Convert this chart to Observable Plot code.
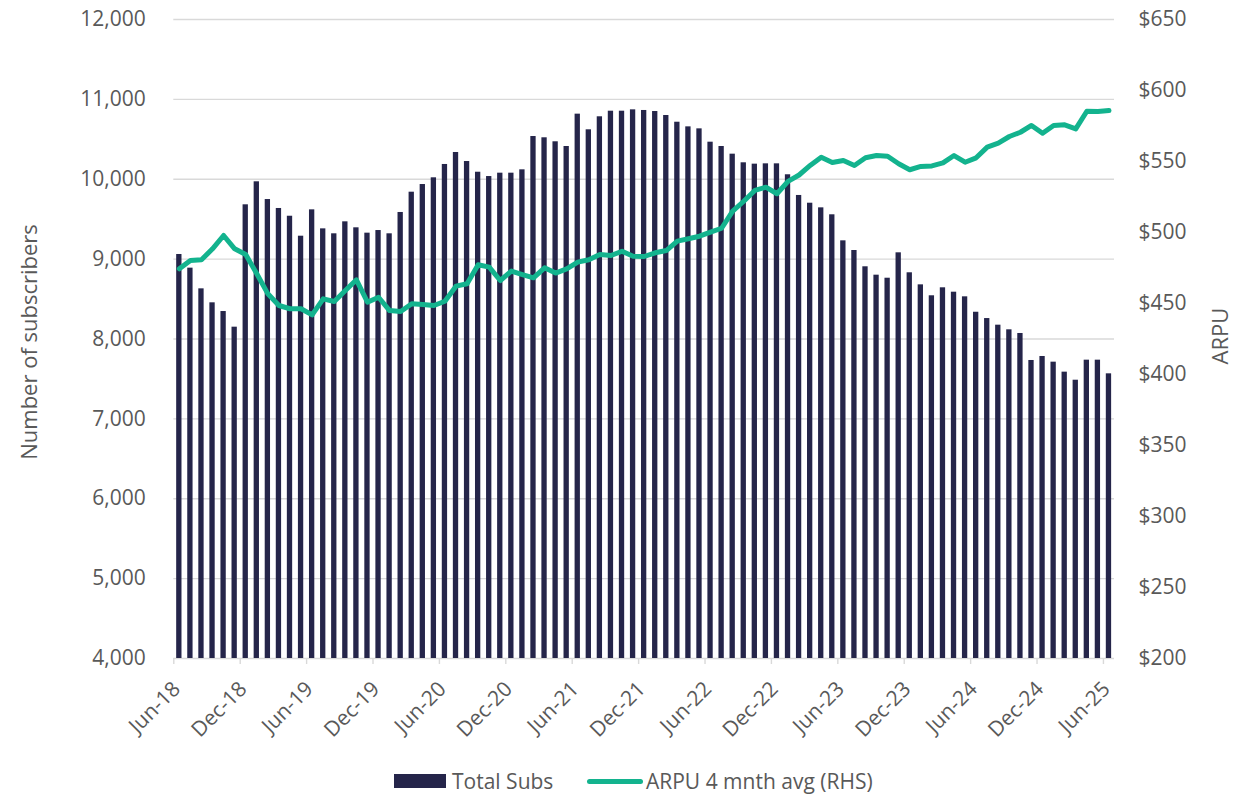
<!DOCTYPE html>
<html>
<head>
<meta charset="utf-8">
<script src="https://cdn.jsdelivr.net/npm/d3@7"></script>
<script src="https://cdn.jsdelivr.net/npm/@observablehq/plot@0.6"></script>
<style>
  html, body { margin: 0; padding: 0; background: #fff; }
  #wrap { width: 1234px; }
  #legend { position: relative; width: 1234px; height: 34px; font-family: "Open Sans", sans-serif; font-size: 21px; color: #595959; }
  #legend .sw { position: absolute; }
  #legend .lbl { position: absolute; top: 6px; height: 30px; line-height: 30px; white-space: nowrap; }
</style>
</head>
<body>
<div id="wrap"></div>
<script>
// ---- data ----
const tickLabels = ["Jun-18","Dec-18","Jun-19","Dec-19","Jun-20","Dec-20","Jun-21","Dec-21","Jun-22","Dec-22","Jun-23","Dec-23","Jun-24","Dec-24","Jun-25"];

const totalSubs = [
  9058, 8887, 8628, 8453, 8344, 8148, 9680, 9968, 9746, 9634, 9537, 9287,
  9617, 9379, 9317, 9467, 9392, 9325, 9358, 9317, 9584, 9838, 9934, 10018,
  10185, 10335, 10222, 10088, 10034, 10076, 10076, 10118, 10535, 10519, 10469, 10410,
  10815, 10619, 10782, 10852, 10852, 10869, 10861, 10848, 10798, 10714, 10656, 10631,
  10464, 10410, 10314, 10206, 10189, 10193, 10193, 10056, 9797, 9700, 9642, 9555,
  9229, 9108, 8904, 8799, 8761, 9079, 8829, 8678, 8541, 8641, 8586, 8528,
  8335, 8256, 8173, 8115, 8069, 7731, 7781, 7710, 7585, 7484, 7735, 7735,
  7564
];

const arpu = [
  474.4, 480.3, 480.8, 488.5, 497.9, 488.5, 484.5, 470.9, 456.8, 448.6, 446.3, 446.3,
  442.0, 453.3, 451.4, 459.2, 466.7, 450.9, 454.4, 445.0, 444.4, 449.8, 449.3, 448.6,
  451.6, 462.2, 463.9, 477.3, 475.6, 466.2, 472.8, 470.4, 468.1, 475.1, 471.4, 474.4,
  479.1, 480.8, 484.5, 483.8, 486.8, 483.3, 483.1, 485.7, 487.3, 493.9, 495.6, 497.4,
  500.2, 503.0, 515.0, 522.0, 529.6, 531.9, 527.3, 536.0, 540.5, 547.2, 553.0, 549.3,
  550.7, 547.2, 552.6, 554.2, 553.7, 548.4, 544.2, 546.5, 546.9, 549.0, 554.2, 549.5,
  552.6, 560.1, 562.9, 567.6, 570.6, 575.4, 569.9, 575.4, 575.8, 573.0, 585.4, 585.2,
  585.9
];

const leftTicks = [4000, 5000, 6000, 7000, 8000, 9000, 10000, 11000, 12000];
const rightTicks = [200, 250, 300, 350, 400, 450, 500, 550, 600, 650];
const leftDomain = [4000, 12000];
const rightDomain = [200, 650];

// ---- helpers ----
const toLeft = v => leftDomain[0] + (v - rightDomain[0]) * (leftDomain[1] - leftDomain[0]) / (rightDomain[1] - rightDomain[0]);
const fromLeft = v => rightDomain[0] + (v - leftDomain[0]) * (rightDomain[1] - rightDomain[0]) / (leftDomain[1] - leftDomain[0]);

const data = totalSubs.map((s, i) => ({i, subs: s, arpu: arpu[i]}));
const tickIdx = tickLabels.map((_, k) => k * 6);

const W = 1234, H = 760;
const barColor = "#25254a", lineColor = "#13b38e", gridColor = "#d9d9d9", textColor = "#595959";

const chart = Plot.plot({
  width: W,
  height: H,
  marginTop: 19,
  marginBottom: H - 658,
  marginLeft: 173.3,
  marginRight: 120,
  style: {fontFamily: "Open Sans", fontSize: "21px", color: textColor, background: "#fff"},
  x: {type: "linear", domain: [0, totalSubs.length], axis: null},
  y: {domain: leftDomain, axis: null},
  marks: [
    Plot.ruleY(leftTicks, {stroke: gridColor, strokeWidth: 1.4}),
    Plot.rectY(data, {x1: d => d.i + 0.26, x2: d => d.i + 0.74, y1: leftDomain[0], y2: "subs", fill: barColor}),
    Plot.line(data, {x: d => d.i + 0.5, y: d => toLeft(d.arpu), stroke: lineColor, strokeWidth: 5, strokeLinejoin: "round", strokeLinecap: "round"}),
    Plot.axisY({ticks: leftTicks, tickFormat: d3.format(","), tickSize: 0, tickPadding: 28, label: null, fill: textColor}),
    Plot.axisY({anchor: "right", ticks: rightTicks.map(toLeft), tickFormat: v => "$" + Math.round(fromLeft(v)), tickSize: 0, tickPadding: 24, label: null, fill: textColor}),
    Plot.axisX({ticks: tickIdx, tickFormat: () => "", tickSize: 6, tickPadding: 0, stroke: gridColor, strokeWidth: 1.4, label: null}),
    Plot.axisX({ticks: tickIdx, tickFormat: d => tickLabels[tickIdx.indexOf(d)], tickRotate: -45, tickSize: 0, tickPadding: 27, dx: 3, fill: textColor, label: null, stroke: "none"}),
    Plot.text(["Number of subscribers"], {frameAnchor: "left", textAnchor: "middle", dx: -144, dy: 3, rotate: -90, fill: textColor, fontSize: 22}),
    Plot.text(["ARPU"], {frameAnchor: "right", textAnchor: "middle", dx: 106, dy: -3, rotate: -90, fill: textColor, fontSize: 22})
  ]
});
document.getElementById("wrap").appendChild(chart);

// ---- legend ----
const legend = document.createElement("div");
legend.id = "legend";
legend.innerHTML = `
  <div class="sw" style="left:394px; top:14px; width:52px; height:14px; background:${barColor}"></div>
  <div class="lbl" style="left:452px">Total Subs</div>
  <div class="sw" style="left:587px; top:19px; width:56px; height:5px; border-radius:3px; background:${lineColor}"></div>
  <div class="lbl" style="left:646px">ARPU 4 mnth avg (RHS)</div>
`;
document.getElementById("wrap").appendChild(legend);
</script>
</body>
</html>
